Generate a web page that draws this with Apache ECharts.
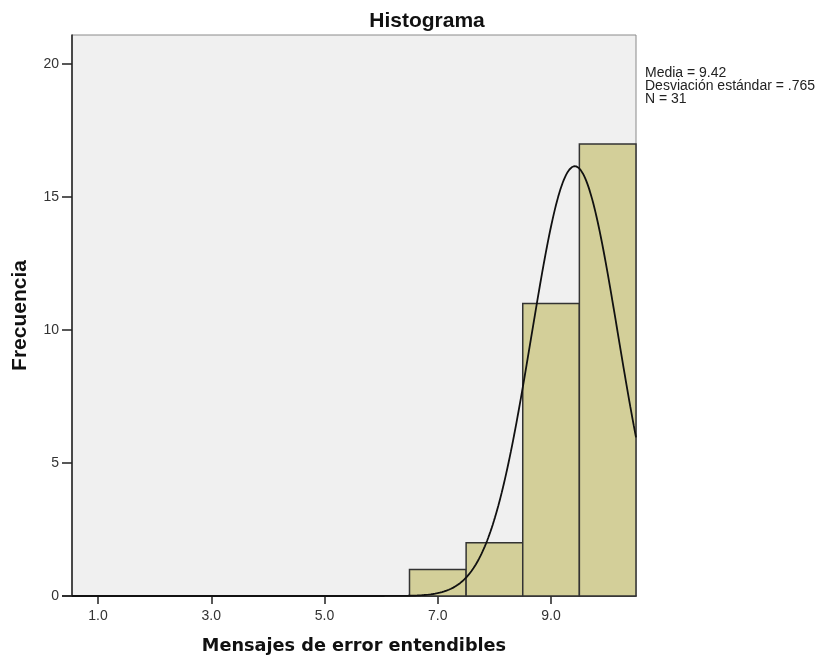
<!DOCTYPE html>
<html>
<head>
<meta charset="utf-8">
<script src="https://cdn.jsdelivr.net/npm/echarts@6/dist/echarts.min.js"></script>
<style>
  html, body { margin: 0; padding: 0; background: #fff; }
  #chart { width: 830px; height: 660px; }
</style>
</head>
<body>
<div id="chart"></div>
<script>
// Histogram bins (lower edge, upper edge) and frequencies
const binLower = [6.5, 7.5, 8.5, 9.5];
const binUpper = [7.5, 8.5, 9.5, 10.5];
const frequencies = [1, 2, 11, 17];

// Summary statistics shown beside the plot
const mean = 9.42;
const stdDev = 0.765;
const n = 31;
const binWidth = 1;

// Axis ticks
const xTicks = [1, 3, 5, 7, 9];
const yTicks = [0, 5, 10, 15, 20];

const xMin = 0.54, xMax = 10.5, yMax = 21.1;

// Normal curve scaled to the histogram (N * bin width * density)
const curve = [];
for (let i = 0; i <= 500; i++) {
  const x = xMin + (xMax - xMin) * i / 500;
  const z = (x - mean) / stdDev;
  const y = n * binWidth * Math.exp(-0.5 * z * z) / (stdDev * Math.sqrt(2 * Math.PI));
  curve.push([x, y]);
}

const bars = binLower.map((lo, i) => [lo, binUpper[i], frequencies[i]]);

const font = 'Liberation Sans, Arial, sans-serif';
const wideFont = 'DejaVu Sans, Verdana, sans-serif';
const statsText = 'Media = ' + mean.toFixed(2) +
  '\nDesviación estándar = ' + stdDev.toFixed(3).replace(/^0/, '') +
  '\nN = ' + n;

const chart = echarts.init(document.getElementById('chart'));

chart.setOption({
  animation: false,
  title: {
    text: 'Histograma',
    left: 422, top: 6, textAlign: 'center',
    textStyle: { fontFamily: font, fontSize: 21, fontWeight: 'bold', color: '#111' }
  },
  grid: {
    left: 72, right: 194, top: 35, bottom: 64,
    show: true, backgroundColor: '#f0f0f0', borderColor: '#8a8a8a', borderWidth: 1
  },
  xAxis: {
    type: 'value', min: xMin, max: xMax,
    name: 'Mensajes de error entendibles',
    nameLocation: 'middle', nameGap: 41,
    nameTextStyle: { fontFamily: wideFont, fontSize: 17.7, fontWeight: 'bold', color: '#111' },
    axisLine: { show: true, lineStyle: { color: '#222', width: 1.5 } },
    axisTick: { show: true, customValues: xTicks, length: 8, lineStyle: { color: '#222', width: 1.5 } },
    axisLabel: {
      customValues: xTicks, margin: 13,
      formatter: v => Number(v).toFixed(1),
      fontFamily: font, fontSize: 14, color: '#333'
    },
    splitLine: { show: false }
  },
  yAxis: {
    type: 'value', min: 0, max: yMax,
    name: 'Frecuencia',
    nameLocation: 'middle', nameGap: 41,
    nameTextStyle: { fontFamily: font, fontSize: 21, fontWeight: 'bold', color: '#111' },
    axisLine: { show: true, lineStyle: { color: '#222', width: 1.5 } },
    axisTick: { show: true, customValues: yTicks, length: 10, lineStyle: { color: '#222', width: 1.5 } },
    axisLabel: {
      customValues: yTicks, margin: 13,
      fontFamily: font, fontSize: 14, color: '#333'
    },
    splitLine: { show: false }
  },
  series: [
    {
      type: 'custom',
      data: bars,
      encode: { x: [0, 1], y: 2 },
      renderItem: (params, api) => {
        const p0 = api.coord([api.value(0), 0]);
        const p1 = api.coord([api.value(1), api.value(2)]);
        return {
          type: 'rect',
          shape: { x: p0[0], y: p1[1], width: p1[0] - p0[0], height: p0[1] - p1[1] },
          style: { fill: '#d3cf99', stroke: '#333', lineWidth: 1.5 }
        };
      },
      z: 2
    },
    {
      type: 'line',
      data: curve,
      showSymbol: false,
      symbol: 'none',
      lineStyle: { color: '#111', width: 1.8 },
      clip: true,
      z: 3
    }
  ]
});

// Statistics block and a short extension of the bottom axis line past the vertical axis
const origin = chart.convertToPixel({ gridIndex: 0 }, [xMin, 0]);
chart.setOption({
  graphic: [
    {
      type: 'text',
      left: 645, top: 66,
      style: {
        text: statsText,
        font: '14px ' + font,
        fill: '#222',
        lineHeight: 13
      }
    },
    {
      type: 'line',
      shape: { x1: origin[0] - 10, y1: origin[1], x2: origin[0], y2: origin[1] },
      style: { stroke: '#222', lineWidth: 1.5 },
      z: 10
    }
  ]
});
</script>
</body>
</html>
